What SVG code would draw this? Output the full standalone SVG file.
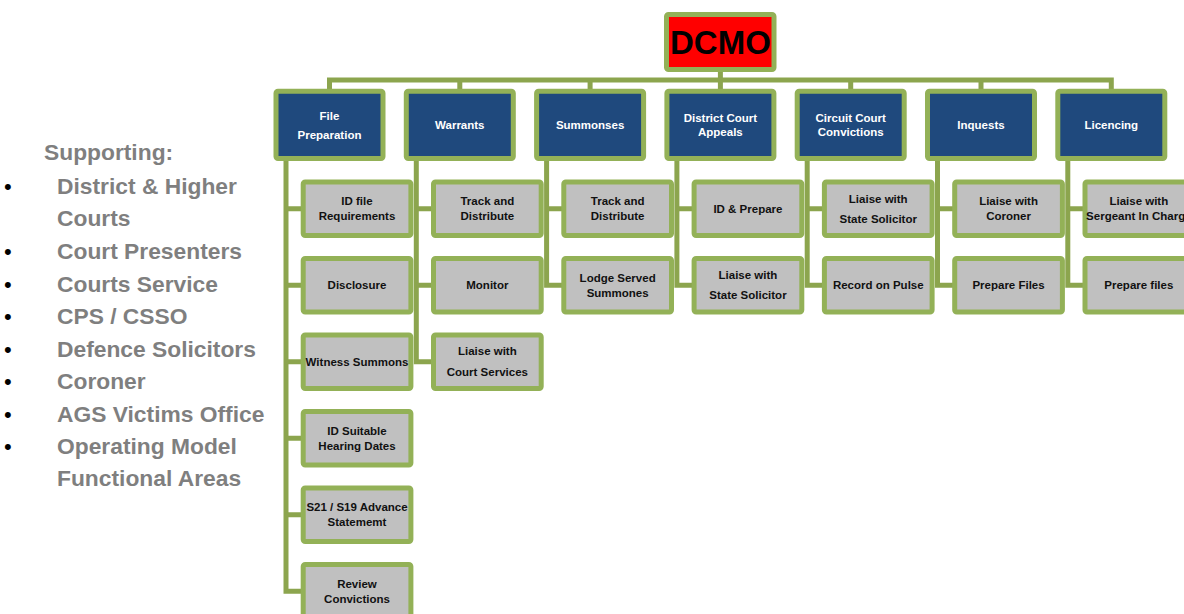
<svg xmlns="http://www.w3.org/2000/svg" width="1184" height="614" viewBox="0 0 1184 614">
  <style>
    .hdr rect { fill: #1f497d; stroke: #93b157; stroke-width: 5; }
    .sub rect { fill: #c0c0c0; stroke: #93b157; stroke-width: 5; }
    .top rect { fill: #ff0000; stroke: #93b157; stroke-width: 5; }
    .hdr text { fill: #ffffff; font: bold 11.5px "Liberation Sans", Arial, sans-serif; text-anchor: middle; }
    .sub text { fill: #111111; font: bold 11.5px "Liberation Sans", Arial, sans-serif; text-anchor: middle; }
    .top text { fill: #000000; font: bold 33px "Liberation Sans", Arial, sans-serif; text-anchor: middle; }
    .links path { fill: none; stroke: #8ca54e; stroke-width: 5; stroke-linejoin: miter; }
    .side text { fill: #7f7f7f; font: bold 22.8px "Liberation Sans", Arial, sans-serif; }
    .side .dot { fill: #000000; font: 22px "Liberation Sans", Arial, sans-serif; }
  </style>

  <!-- supporting list -->
  <g id="supporting" class="side">
    <text x="44" y="160">Supporting:</text>
    <text class="dot" x="4" y="194">•</text>
    <text x="57" y="194">District &amp; Higher</text>
    <text x="57" y="226">Courts</text>
    <text class="dot" x="4" y="259">•</text>
    <text x="57" y="259">Court Presenters</text>
    <text class="dot" x="4" y="292">•</text>
    <text x="57" y="292">Courts Service</text>
    <text class="dot" x="4" y="324">•</text>
    <text x="57" y="324">CPS / CSSO</text>
    <text class="dot" x="4" y="357">•</text>
    <text x="57" y="357">Defence Solicitors</text>
    <text class="dot" x="4" y="389">•</text>
    <text x="57" y="389">Coroner</text>
    <text class="dot" x="4" y="422">•</text>
    <text x="57" y="422">AGS Victims Office</text>
    <text class="dot" x="4" y="454">•</text>
    <text x="57" y="454">Operating Model</text>
    <text x="57" y="486">Functional Areas</text>
  </g>

  <!-- connectors -->
  <g id="connectors" class="links">
    <path d="M720.4 72 V80"/>
    <path d="M329.5 89 V80 H1111.3 V89"/>
    <path d="M459.8 80 V89 M590.1 80 V89 M720.4 80 V89 M850.7 80 V89 M981 80 V89"/>
    <!-- File Preparation -->
    <path d="M286 161 V591.25 H303"/>
    <path d="M286 208.75 H303 M286 285.25 H303 M286 361.75 H303 M286 438.25 H303 M286 514.75 H303"/>
    <!-- Warrants -->
    <path d="M416.3 161 V361.75 H433"/>
    <path d="M416.3 208.75 H433 M416.3 285.25 H433"/>
    <!-- Summonses -->
    <path d="M546.6 161 V285.25 H563"/>
    <path d="M546.6 208.75 H563"/>
    <!-- District Court Appeals -->
    <path d="M676.9 161 V285.25 H693"/>
    <path d="M676.9 208.75 H693"/>
    <!-- Circuit Court Convictions -->
    <path d="M807.2 161 V285.25 H824"/>
    <path d="M807.2 208.75 H824"/>
    <!-- Inquests -->
    <path d="M937.5 161 V285.25 H954"/>
    <path d="M937.5 208.75 H954"/>
    <!-- Licencing -->
    <path d="M1067.8 161 V285.25 H1084"/>
    <path d="M1067.8 208.75 H1084"/>
  </g>

  <!-- root -->
  <g id="dcmo" class="top">
    <rect x="666.5" y="14.5" width="107.5" height="55" rx="2"/>
    <text x="720.4" y="54">DCMO</text>
  </g>

  <!-- headers -->
  <g id="file-preparation" class="hdr">
    <rect x="276" y="91.2" width="107" height="67.3" rx="2"/>
    <text x="329.5" y="119.5">File</text>
    <text x="329.5" y="139">Preparation</text>
  </g>
  <g id="warrants" class="hdr">
    <rect x="406.3" y="91.2" width="107" height="67.3" rx="2"/>
    <text x="459.8" y="129">Warrants</text>
  </g>
  <g id="summonses" class="hdr">
    <rect x="536.6" y="91.2" width="107" height="67.3" rx="2"/>
    <text x="590.1" y="129">Summonses</text>
  </g>
  <g id="district-court-appeals" class="hdr">
    <rect x="666.9" y="91.2" width="107" height="67.3" rx="2"/>
    <text x="720.4" y="121.5">District Court</text>
    <text x="720.4" y="135.5">Appeals</text>
  </g>
  <g id="circuit-court-convictions" class="hdr">
    <rect x="797.2" y="91.2" width="107" height="67.3" rx="2"/>
    <text x="850.7" y="121.5">Circuit Court</text>
    <text x="850.7" y="135.5">Convictions</text>
  </g>
  <g id="inquests" class="hdr">
    <rect x="927.5" y="91.2" width="107" height="67.3" rx="2"/>
    <text x="981" y="129">Inquests</text>
  </g>
  <g id="licencing" class="hdr">
    <rect x="1057.8" y="91.2" width="107" height="67.3" rx="2"/>
    <text x="1111.3" y="129">Licencing</text>
  </g>

  <!-- File Preparation tasks -->
  <g id="fp-id-file" class="sub">
    <rect x="303.2" y="182" width="107.7" height="53.5" rx="2"/>
    <text x="357" y="205">ID file</text>
    <text x="357" y="220">Requirements</text>
  </g>
  <g id="fp-disclosure" class="sub">
    <rect x="303.2" y="258.5" width="107.7" height="53.5" rx="2"/>
    <text x="357" y="289.3">Disclosure</text>
  </g>
  <g id="fp-witness" class="sub">
    <rect x="303.2" y="335" width="107.7" height="53.5" rx="2"/>
    <text x="357" y="365.8">Witness Summons</text>
  </g>
  <g id="fp-hearing-dates" class="sub">
    <rect x="303.2" y="411.5" width="107.7" height="53.5" rx="2"/>
    <text x="357" y="434.5">ID Suitable</text>
    <text x="357" y="449.5">Hearing Dates</text>
  </g>
  <g id="fp-advance-statement" class="sub">
    <rect x="303.2" y="488" width="107.7" height="53.5" rx="2"/>
    <text x="357" y="511">S21 / S19 Advance</text>
    <text x="357" y="526">Statememt</text>
  </g>
  <g id="fp-review" class="sub">
    <rect x="303.2" y="564.5" width="107.7" height="53.5" rx="2"/>
    <text x="357" y="587.5">Review</text>
    <text x="357" y="602.5">Convictions</text>
  </g>

  <!-- Warrants tasks -->
  <g id="w-track" class="sub">
    <rect x="433.5" y="182" width="107.7" height="53.5" rx="2"/>
    <text x="487.35" y="205">Track and</text>
    <text x="487.35" y="220">Distribute</text>
  </g>
  <g id="w-monitor" class="sub">
    <rect x="433.5" y="258.5" width="107.7" height="53.5" rx="2"/>
    <text x="487.35" y="289.3">Monitor</text>
  </g>
  <g id="w-court-services" class="sub">
    <rect x="433.5" y="335" width="107.7" height="53.5" rx="2"/>
    <text x="487.35" y="355">Liaise with</text>
    <text x="487.35" y="376">Court Services</text>
  </g>

  <!-- Summonses tasks -->
  <g id="s-track" class="sub">
    <rect x="563.8" y="182" width="107.7" height="53.5" rx="2"/>
    <text x="617.65" y="205">Track and</text>
    <text x="617.65" y="220">Distribute</text>
  </g>
  <g id="s-lodge" class="sub">
    <rect x="563.8" y="258.5" width="107.7" height="53.5" rx="2"/>
    <text x="617.65" y="282">Lodge Served</text>
    <text x="617.65" y="296.5">Summones</text>
  </g>

  <!-- District Court Appeals tasks -->
  <g id="dca-prepare" class="sub">
    <rect x="694.1" y="182" width="107.7" height="53.5" rx="2"/>
    <text x="747.95" y="212.8">ID &amp; Prepare</text>
  </g>
  <g id="dca-state-solicitor" class="sub">
    <rect x="694.1" y="258.5" width="107.7" height="53.5" rx="2"/>
    <text x="747.95" y="278.5">Liaise with</text>
    <text x="747.95" y="299">State Solicitor</text>
  </g>

  <!-- Circuit Court Convictions tasks -->
  <g id="ccc-state-solicitor" class="sub">
    <rect x="824.4" y="182" width="107.7" height="53.5" rx="2"/>
    <text x="878.25" y="202.5">Liaise with</text>
    <text x="878.25" y="223">State Solicitor</text>
  </g>
  <g id="ccc-pulse" class="sub">
    <rect x="824.4" y="258.5" width="107.7" height="53.5" rx="2"/>
    <text x="878.25" y="289.3">Record on Pulse</text>
  </g>

  <!-- Inquests tasks -->
  <g id="inq-coroner" class="sub">
    <rect x="954.7" y="182" width="107.7" height="53.5" rx="2"/>
    <text x="1008.55" y="205">Liaise with</text>
    <text x="1008.55" y="220">Coroner</text>
  </g>
  <g id="inq-files" class="sub">
    <rect x="954.7" y="258.5" width="107.7" height="53.5" rx="2"/>
    <text x="1008.55" y="289.3">Prepare Files</text>
  </g>

  <!-- Licencing tasks (box runs past the right edge) -->
  <g id="lic-sergeant" class="sub">
    <rect x="1085" y="182" width="107.7" height="53.5" rx="2"/>
    <text x="1138.85" y="205">Liaise with</text>
    <text x="1138.85" y="220">Sergeant In Charge</text>
  </g>
  <g id="lic-files" class="sub">
    <rect x="1085" y="258.5" width="107.7" height="53.5" rx="2"/>
    <text x="1138.85" y="289.3">Prepare files</text>
  </g>
</svg>
